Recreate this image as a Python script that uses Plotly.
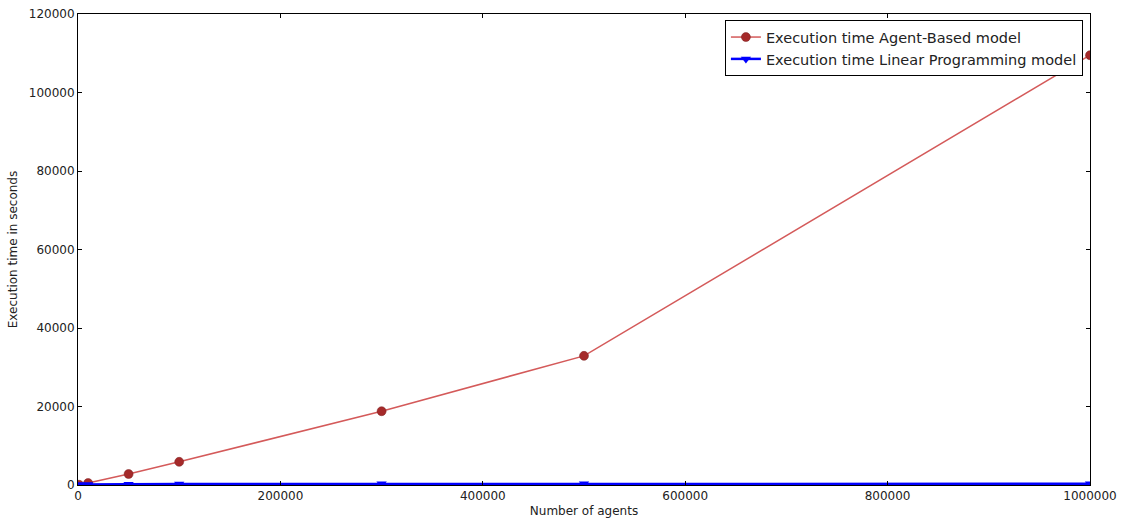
import plotly.graph_objects as go

agents = [1000, 10000, 50000, 100000, 300000, 500000, 1000000]
abm_time = [60, 500, 2800, 5900, 18800, 32900, 109500]
lp_time = [100, 150, 200, 250, 300, 300, 300]

x_ticks = [0, 200000, 400000, 600000, 800000, 1000000]
y_ticks = [0, 20000, 40000, 60000, 80000, 100000, 120000]

fig = go.Figure()
fig.add_trace(go.Scatter(
    x=agents, y=abm_time, mode="lines+markers",
    name="Execution time Agent-Based model",
    line=dict(color="#d45a5a", width=1.5),
    marker=dict(color="#a52a2a", size=9, symbol="circle",
                line=dict(color="#7a1f1f", width=0.5)),
))
fig.add_trace(go.Scatter(
    x=agents, y=lp_time, mode="lines+markers",
    name="Execution time Linear Programming model",
    line=dict(color="#0000ff", width=2.5),
    marker=dict(color="#0000ff", size=9, symbol="triangle-down"),
))

axis_common = dict(
    showgrid=False, zeroline=False, showline=True, linecolor="black",
    linewidth=1, mirror="ticks", ticks="inside", ticklen=4,
    tickcolor="black", automargin=False, ticklabeloverflow="allow",
    tickfont=dict(family="DejaVu Sans", size=12, color="#222"),
)
fig.update_xaxes(range=[0, 1000000], tickvals=x_ticks,
                 ticktext=[str(v) for v in x_ticks],
                 title=dict(text="Number of agents", font=dict(size=12, family="DejaVu Sans", color="#222"), standoff=4),
                 **axis_common)
fig.update_yaxes(range=[0, 120000], tickvals=y_ticks,
                 ticktext=[str(v) for v in y_ticks],
                 title=dict(text="Execution time in seconds", font=dict(size=12, family="DejaVu Sans", color="#222"), standoff=8),
                 **axis_common)

fig.update_layout(
    width=1124, height=523,
    margin=dict(l=78, r=34, t=14, b=38),
    plot_bgcolor="white", paper_bgcolor="white",
    font=dict(family="DejaVu Sans", color="#222"),
    legend=dict(x=0.993, y=0.987, xanchor="right", yanchor="top",
                bgcolor="white", bordercolor="black", borderwidth=1,
                font=dict(size=14.5, family="DejaVu Sans", color="#222"),
                tracegroupgap=0),
    showlegend=True,
)

fig.write_html("out.html",
               config={"displayModeBar": False},
               post_script="document.body.style.margin='0';document.body.style.padding='0';")
